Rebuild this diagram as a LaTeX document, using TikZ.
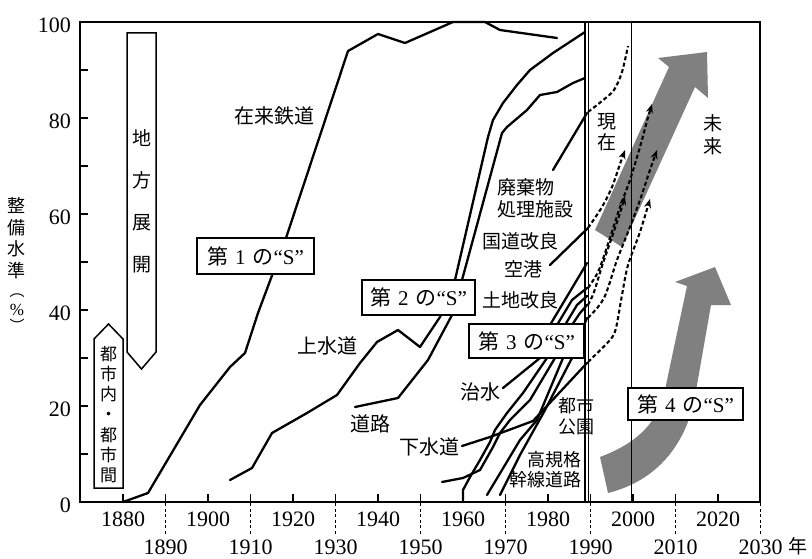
\documentclass[tikz,border=0pt]{standalone}
\usepackage{fontspec}
\setmainfont{Liberation Serif}
\newfontfamily\cjk{Noto Sans CJK JP}
\usetikzlibrary{arrows.meta}
\begin{document}
\begin{tikzpicture}[x=1pt,y=-1pt,
  curve/.style={line width=2.3pt, line join=round, line cap=round},
  dashcurve/.style={line width=2.1pt, dash pattern=on 4pt off 2.6pt, line join=round},
  dasharrow/.style={dashcurve, -{Stealth[length=9pt,width=7pt]}},
  frameline/.style={line width=2pt},
  thinline/.style={line width=1.2pt},
  outline/.style={line width=1.5pt, fill=white},
  sbox/.style={draw, line width=1.5pt, fill=white, inner sep=0pt, font=\fontsize{21}{21}\selectfont},
  lab/.style={font=\cjk\fontsize{20}{22}\selectfont, inner sep=0pt},
  num/.style={font=\fontsize{22}{22}\selectfont, inner sep=0pt},
  greyarrow/.style={fill=black!50},
]
\useasboundingbox (0,0) rectangle (812,559);

% ---- grey arrows (3rd and 4th S) ----
\fill[greyarrow] (595,230) -- (669,67) -- (658,58) -- (707,52) -- (708,98) -- (695,87) -- (622,247) -- cycle;
\fill[greyarrow] (600,457) .. controls (640,442) and (660,420) .. (666,385) -- (687,286) -- (675,282) -- (715,267) -- (731,305) -- (711,305) -- (697,385) .. controls (690,440) and (660,480) .. (608,493) -- cycle;

% ---- frame and axes ----
\draw[frameline] (80,22) -- (80,502) -- (760,502) -- (760,22) -- cycle;
\draw[thinline] (631.5,22) -- (631.5,502);
\draw[thinline] (585,22) -- (585,502);
\draw[thinline] (588.5,22) -- (588.5,502);
\foreach \p in {10,20,...,90} {\draw[line width=1.4pt] (80,{502-4.8*\p}) -- (88,{502-4.8*\p});}
\foreach \yr in {1880,1890,...,2020} {\draw[line width=1.4pt] ({123+(\yr-1880)*4.25},494) -- ({123+(\yr-1880)*4.25},502);}
\foreach \yr in {1890,1910,...,2030} {\draw[line width=1.2pt, dash pattern=on 3pt off 2.5pt] ({123+(\yr-1880)*4.25},503) -- ({123+(\yr-1880)*4.25},535);}

% ---- 1st and 2nd S curves ----
\draw[curve] (123,502) -- (148,493) -- (200,405) -- (230,367) -- (245,353) -- (258,313) -- (286,238) -- (348,51) -- (378,34) -- (405,43) -- (453,22) -- (485,22) -- (500,30) -- (557,38);
\draw[curve] (230,480) -- (252,468) -- (272,433) -- (307,413) -- (337,395) -- (360,363) -- (377,342) -- (398,330) -- (420,347) -- (440,317) -- (455,280) -- (488,137) -- (493,120) -- (503,103) -- (517,85) -- (530,70) -- (553,53) -- (585,32);
\draw[curve] (355,407) -- (398,398) -- (428,360) -- (452,315) -- (462,280) -- (502,133) -- (507,127) -- (527,110) -- (540,95) -- (557,92) -- (573,83) -- (585,78);

% ---- 3rd S curves ----
\draw[curve] (553,170) -- (587,113);
\draw[curve] (550,265) -- (588,228);
\draw[curve] (503,388) -- (540,358) -- (550,325) -- (587,263);
\draw[curve] (463,500) -- (463,490) -- (470,477) -- (480,460) -- (490,442) -- (495,430) -- (507,413) -- (523,393) -- (547,358) -- (557,325) -- (572,300) -- (587,288);
\draw[curve] (442,482) -- (463,478) -- (480,470) -- (493,447) -- (500,433) -- (510,420) -- (530,400) -- (555,358) -- (565,325) -- (577,305) -- (587,296);
\draw[curve] (487,495) -- (505,465) -- (520,440) -- (537,420) -- (563,358) -- (572,325) -- (580,313) -- (587,305);
\draw[curve] (500,495) -- (520,455) -- (545,410) -- (572,358) -- (580,335) -- (587,318);
\draw[curve] (462,446) -- (490,437) -- (533,421) -- (560,392) -- (587,363);

% ---- dashed extensions ----
\draw[dashcurve] plot[smooth, tension=0.5] coordinates {(588,112) (602,101) (614,90) (622,72) (628,46)};
\draw[dasharrow] plot[smooth, tension=0.5] coordinates {(588,228) (602,207) (612,187) (620,164) (625,150)};
\draw[dasharrow] plot[smooth, tension=0.5] coordinates {(588,305) (594,292) (603,263) (612,237) (620,213) (625,196)};
\draw[dasharrow] plot[smooth, tension=0.5] coordinates {(588,288) (598,272) (607,247) (620,207) (630,180) (640,147) (647,121) (652,104)};
\draw[dasharrow] plot[smooth, tension=0.5] coordinates {(588,318) (598,307) (604,298) (609,285) (617,260) (630,227) (640,200) (650,170) (657,150)};
\draw[dasharrow] plot[smooth, tension=0.5] coordinates {(588,362) (610,340) (616,328) (622,295) (628,265) (640,232) (650,199)};

% ---- arrows for spread ----
\draw[outline] (127,33) -- (156,33) -- (156,352) -- (141.5,369) -- (127,352) -- cycle;
\draw[outline] (94,488) -- (94,339) -- (108.5,324) -- (123,339) -- (123,488) -- cycle;

% ---- S boxes ----
\node[sbox, minimum width=117pt, minimum height=36pt] (s1) at (255.5,256) {{\cjk 第}\hspace{7pt}1\hspace{7pt}{\cjk の}“S”};
\node[sbox, minimum width=113pt, minimum height=35pt] (s2) at (418.5,297.5) {{\cjk 第}\hspace{7pt}2\hspace{7pt}{\cjk の}“S”};
\node[sbox, minimum width=115pt, minimum height=34pt] (s3) at (526.5,341) {{\cjk 第}\hspace{7pt}3\hspace{7pt}{\cjk の}“S”};
\node[sbox, minimum width=115pt, minimum height=32pt] (s4) at (685.5,404) {{\cjk 第}\hspace{7pt}4\hspace{7pt}{\cjk の}“S”};

% ---- vertical texts ----
\node[inner sep=0pt, align=center, font=\cjk\fontsize{19}{42}\selectfont] (chiho) at (141.5,201) {地\\方\\展\\開};
\node[inner sep=0pt, align=center, font=\cjk\fontsize{17}{20.2}\selectfont] (toshi) at (108.5,414.5) {都\\市\\内\\・\\都\\市\\間};
\node[inner sep=0pt, align=center, font=\cjk\fontsize{18}{21.5}\selectfont] (ytitle) at (17,238) {整\\備\\水\\準};
\node[inner sep=0pt, font=\cjk\fontsize{15}{15}\selectfont] (ypl) at (17,296) {︵};
\node[inner sep=0pt, font=\fontsize{17}{17}\selectfont] (ypc) at (17,310) {\%};
\node[inner sep=0pt, font=\cjk\fontsize{15}{15}\selectfont] (ypr) at (17,325) {︶};
\node[inner sep=0pt, align=center, font=\cjk\fontsize{19}{21}\selectfont] (genzai) at (607,132.5) {現\\在};
\node[inner sep=0pt, align=center, font=\cjk\fontsize{19}{23}\selectfont] (mirai) at (713,134.5) {未\\来};

% ---- curve labels ----
\node[lab] (rail) at (274,116) {在来鉄道};
\node[lab] (josui) at (327,346) {上水道};
\node[lab] (doro) at (370,424) {道路};
\node[lab] (gesui) at (429,447) {下水道};
\node[lab] (chisui) at (480,392) {治水};
\node[lab, align=left, anchor=west, font=\cjk\fontsize{19}{22}\selectfont] (haiki) at (497,198) {廃棄物\\処理施設};
\node[lab, font=\cjk\fontsize{19}{22}\selectfont] (kokudo) at (520,241) {国道改良};
\node[lab, font=\cjk\fontsize{19}{22}\selectfont] (kuko) at (523,269) {空港};
\node[lab, font=\cjk\fontsize{19}{22}\selectfont] (tochi) at (520,300) {土地改良};
\node[lab, align=center, font=\cjk\fontsize{18}{21}\selectfont] (koen) at (576,416) {都市\\公園};
\node[lab, align=right, anchor=east, font=\cjk\fontsize{18}{20}\selectfont] (kokikaku) at (582,470) {高規格\\幹線道路};

% ---- axis labels ----
\foreach \p in {0,20,...,100} {\node[num, anchor=east] (yv\p) at (71,{502-4.8*\p+3}) {\p};}
\foreach \yr in {1880,1900,...,2020} {\node[num] (xa\yr) at ({123+(\yr-1880)*4.25},519) {\yr};}
\foreach \yr in {1890,1910,...,2030} {\node[num] (xb\yr) at ({123+(\yr-1880)*4.25},547) {\yr};}
\node[inner sep=0pt, font=\cjk\fontsize{19}{19}\selectfont] (nen) at (798,546) {年};
\end{tikzpicture}
\end{document}
